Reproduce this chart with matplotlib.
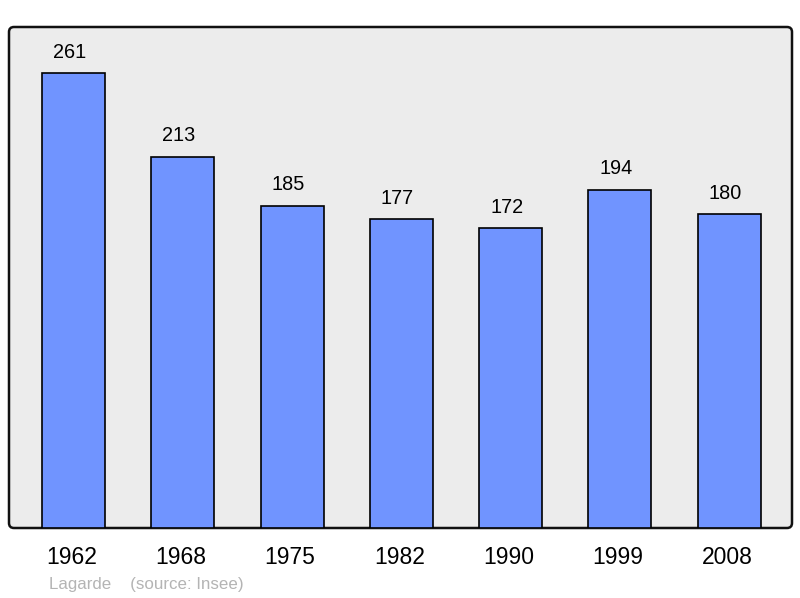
import matplotlib
matplotlib.use("Agg")
import matplotlib.pyplot as plt
import matplotlib.transforms as mtransforms
from matplotlib.patches import FancyBboxPatch

years = ["1962", "1968", "1975", "1982", "1990", "1999", "2008"]
population = [261, 213, 185, 177, 172, 194, 180]
footer = "Lagarde    (source: Insee)"

plt.rcParams['font.family'] = ['Liberation Sans', 'DejaVu Sans']

fig = plt.figure(figsize=(8, 5.98), dpi=100)
ax = fig.add_axes([9 / 800, 70 / 598, 783 / 800, 501 / 598])
ax.set_facecolor('none')

# rounded frame behind the bars
frame = FancyBboxPatch((0, 0), 1, 1, boxstyle='round,pad=0,rounding_size=%f' % (5 / 783),
                       mutation_aspect=783 / 501, transform=ax.transAxes,
                       facecolor='#ececec', edgecolor='#111111', linewidth=1.8,
                       zorder=0, clip_on=False)
ax.add_patch(frame)
for s in ax.spines.values():
    s.set_visible(False)

x = list(range(len(years)))
ax.bar(x, population, width=0.576, color='#7094ff', edgecolor='black', linewidth=1.2, zorder=2)

for xi, v in zip(x, population):
    ax.annotate(str(v), (xi, v), xytext=(-4, 15.5), textcoords='offset pixels',
                ha='center', va='baseline', fontsize=14.3)

ax.set_xlim(-0.59, 6.574)
ax.set_ylim(0, 287.4)
ax.set_yticks([])
ax.set_xticks(x)
ax.set_xticklabels(years, fontsize=16.5)
ax.tick_params(axis='x', length=0, pad=13)
shift = mtransforms.ScaledTranslation(-2 / 100, 0, fig.dpi_scale_trans)
for lab in ax.get_xticklabels():
    lab.set_transform(lab.get_transform() + shift)

fig.text(49 / 800, 1 - 585 / 598, footer, color='#b4b4b4', fontsize=12.2, ha='left', va='center')

fig.savefig('out.png', dpi=100)
